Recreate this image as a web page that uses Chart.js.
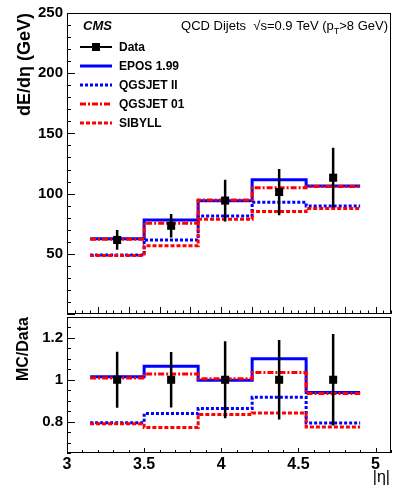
<!DOCTYPE html>
<html>
<head>
<meta charset="utf-8">
<script src="https://cdn.jsdelivr.net/npm/chart.js@4/dist/chart.umd.min.js"></script>
<style>
body{margin:0;background:#fff;}
#wrap{position:relative;width:394px;height:490px;}
canvas{position:absolute;left:0;}
</style>
</head>
<body>
<div id="wrap">
<canvas id="top" width="394" height="316" style="top:0"></canvas>
<canvas id="ratio" width="394" height="174" style="top:316px"></canvas>
</div>
<script>
// |eta| bins and values
var binEdges   = [3.15, 3.5, 3.85, 4.2, 4.55, 4.9];
var etaCenters = [3.325, 3.675, 4.025, 4.375, 4.725];
var dataVals   = [61.5, 73.3, 94.2, 101.3, 113.2];
var dataErr    = [8.2, 9.7, 17.3, 19.2, 24.8];
var epos       = [62.4, 78.0, 94.0, 111.5, 106.3];
var qgsjet2    = [48.9, 61.5, 81.3, 92.8, 89.8];
var qgsjet01   = [62.0, 75.3, 94.7, 104.8, 105.8];
var sibyll     = [48.6, 56.6, 78.6, 85.2, 87.6];
var xTicks      = [3, 3.5, 4, 4.5, 5];
var yTicksTop   = [50, 100, 150, 200, 250];
var yTicksRatio = [0.8, 1, 1.2];

var FONT = "'Liberation Sans', Arial, sans-serif";

var models = [
	{label: 'EPOS 1.99', vals: epos,     color: '#0000ff', dash: []},
	{label: 'QGSJET II', vals: qgsjet2,  color: '#0000ff', dash: [3, 2]},
	{label: 'QGSJET 01', vals: qgsjet01, color: '#ff0000', dash: [6, 2, 2, 2]},
	{label: 'SIBYLL',    vals: sibyll,   color: '#ff0000', dash: [4, 2]}
];

// one point per bin low edge, plus the closing right edge
function histPoints(vals, div){
	var pts = [];
	for (var i = 0; i < vals.length; i++){
		pts.push({x: binEdges[i], y: div ? vals[i] / div[i] : vals[i]});
	}
	pts.push({x: binEdges[binEdges.length - 1], y: pts[pts.length - 1].y});
	return pts;
}

function buildDatasets(ratio){
	var sets = [];
	var pts = [];
	for (var i = 0; i < etaCenters.length; i++){
		pts.push({x: etaCenters[i], y: ratio ? 1 : dataVals[i]});
	}
	sets.push({label: 'Data', data: pts, showLine: false, pointStyle: 'rect',
		pointRadius: 5.7, backgroundColor: '#000', borderColor: '#000', borderWidth: 0});
	// EPOS last in the list so it is drawn underneath
	for (var m = models.length - 1; m >= 0; m--){
		sets.push({label: models[m].label, data: histPoints(models[m].vals, ratio ? dataVals : null),
			stepped: 'before', borderColor: models[m].color, borderDash: models[m].dash,
			borderWidth: 3, pointRadius: 0, fill: false, tension: 0});
	}
	return sets;
}

function ticksPlugin(o){
	return {
		id: 'frameTicks',
		beforeDatasetDraw: function(chart, args){
			if (args.index !== 0) return;
			var ctx = chart.ctx, xs = chart.scales.x, ys = chart.scales.y;
			ctx.save();
			ctx.strokeStyle = '#000';
			ctx.lineWidth = 2.5;
			ctx.beginPath();
			for (var i = 0; i < etaCenters.length; i++){
				var c = o.ratio ? 1 : dataVals[i];
				var e = o.ratio ? dataErr[i] / dataVals[i] : dataErr[i];
				var px = xs.getPixelForValue(etaCenters[i]);
				ctx.moveTo(px, ys.getPixelForValue(c + e));
				ctx.lineTo(px, ys.getPixelForValue(c - e));
			}
			ctx.stroke();
			ctx.restore();
		},
		afterDraw: function(chart){
			var ctx = chart.ctx, a = chart.chartArea, xs = chart.scales.x, ys = chart.scales.y;
			ctx.save();
			ctx.strokeStyle = '#000';
			ctx.lineWidth = 1;
			ctx.strokeRect(Math.round(a.left) + 0.5, Math.round(a.top) + 0.5,
				Math.round(a.right - a.left) - 1, Math.round(a.bottom - a.top) - 1);
			ctx.beginPath();
			var n = Math.round((xs.max - xs.min) / o.xMinor), i, v, p, len;
			for (i = 0; i <= n; i++){
				v = xs.min + i * o.xMinor;
				if (v > xs.max + 1e-9) break;
				p = Math.round(xs.getPixelForValue(v)) + 0.5;
				len = Math.abs(v / o.xMajor - Math.round(v / o.xMajor)) < 1e-6 ? o.xMajLen : o.xMinLen;
				ctx.moveTo(p, a.bottom);
				ctx.lineTo(p, a.bottom - len);
			}
			n = Math.round((ys.max - ys.min) / o.yMinor);
			for (i = 0; i <= n; i++){
				v = ys.min + i * o.yMinor;
				p = Math.round(ys.getPixelForValue(v)) + 0.5;
				len = Math.abs(v / o.yMajor - Math.round(v / o.yMajor)) < 1e-6 ? o.yMajLen : o.yMinLen;
				ctx.moveTo(a.left, p);
				ctx.lineTo(a.left + len, p);
			}
			ctx.stroke();
			ctx.restore();
			if (o.extra) o.extra(chart);
		}
	};
}

function drawHeader(chart){
	var ctx = chart.ctx;
	ctx.save();
	ctx.fillStyle = '#000';
	ctx.textBaseline = 'alphabetic';
	ctx.font = 'italic bold 13px ' + FONT;
	ctx.fillText('CMS', 83, 30);

	var p1 = 'QCD Dijets  \u221As=0.9 TeV (p', p2 = 'T', p3 = '>8 GeV)';
	ctx.font = '13px ' + FONT;
	var w1 = ctx.measureText(p1).width, w3 = ctx.measureText(p3).width;
	ctx.font = '9px ' + FONT;
	var w2 = ctx.measureText(p2).width;
	var x = 388 - (w1 + w2 + w3);
	ctx.font = '13px ' + FONT;
	ctx.fillText(p1, x, 30);
	ctx.font = '9px ' + FONT;
	ctx.fillText(p2, x + w1, 34);
	ctx.font = '13px ' + FONT;
	ctx.fillText(p3, x + w1 + w2, 30);

	// legend
	var rows = [47, 66, 85, 104, 123];
	ctx.font = 'bold 12px ' + FONT;
	ctx.textBaseline = 'middle';
	ctx.strokeStyle = '#000';
	ctx.lineWidth = 2;
	ctx.beginPath();
	ctx.moveTo(80, rows[0]); ctx.lineTo(112, rows[0]);
	ctx.stroke();
	ctx.fillRect(92, rows[0] - 4, 8, 8);
	ctx.fillText('Data', 119, rows[0] + 1);
	for (var m = 0; m < models.length; m++){
		var y = rows[m + 1];
		ctx.strokeStyle = models[m].color;
		ctx.lineWidth = 3;
		ctx.setLineDash(models[m].dash);
		ctx.beginPath();
		ctx.moveTo(80, y); ctx.lineTo(112, y);
		ctx.stroke();
		ctx.setLineDash([]);
		ctx.fillStyle = '#000';
		ctx.fillText(models[m].label, 119, y + 1);
	}
	ctx.restore();
}

function drawEtaLabel(chart){
	var ctx = chart.ctx;
	ctx.save();
	ctx.fillStyle = '#000';
	ctx.font = '16px ' + FONT;
	ctx.textAlign = 'right';
	ctx.textBaseline = 'alphabetic';
	ctx.fillText('|\u03B7|', 390, 166);
	ctx.restore();
}

function plainLabel(v){ return String(v); }

function yAxis(min, max, list, title, titleSize){
	return {
		type: 'linear', min: min, max: max,
		afterBuildTicks: function(s){ s.ticks = list.map(function(v){ return {value: v}; }); },
		afterFit: function(s){ s.width = 67; s.paddingTop = 0; s.paddingBottom = 0; },
		grid: {display: false, drawTicks: false},
		border: {display: false},
		ticks: {color: '#000', padding: 4, callback: plainLabel,
			font: {family: FONT, size: 15, weight: 'bold'}},
		title: {display: true, text: title, align: 'end', color: '#000',
			padding: {top: 14, bottom: 0}, font: {family: FONT, size: titleSize, weight: 'bold'}}
	};
}

var baseOpts = {
	responsive: false,
	animation: false,
	devicePixelRatio: 1,
	plugins: {legend: {display: false}, tooltip: {enabled: false}}
};

new Chart(document.getElementById('top'), {
	type: 'line',
	data: {datasets: buildDatasets(false)},
	options: Object.assign({}, baseOpts, {
		layout: {autoPadding: false, padding: {top: 13, right: 3, bottom: 2, left: 0}},
		scales: {
			x: {type: 'linear', min: 3, max: 5.1, display: false},
			y: yAxis(0, 250, yTicksTop, 'dE/d\u03B7 (GeV)', 18)
		}
	}),
	plugins: [ticksPlugin({ratio: false, xMinor: 0.05, xMajor: 0.2, xMajLen: 7, xMinLen: 3.5,
		yMinor: 10, yMajor: 50, yMajLen: 8, yMinLen: 4, extra: drawHeader})]
});

new Chart(document.getElementById('ratio'), {
	type: 'line',
	data: {datasets: buildDatasets(true)},
	options: Object.assign({}, baseOpts, {
		layout: {autoPadding: false, padding: {top: 1, right: 3, bottom: 0, left: 0}},
		scales: {
			x: {
				type: 'linear', min: 3, max: 5.1,
				afterBuildTicks: function(s){ s.ticks = xTicks.map(function(v){ return {value: v}; }); },
				afterFit: function(s){ s.height = 37; s.paddingLeft = 0; s.paddingRight = 0; },
				grid: {display: false, drawTicks: false},
				border: {display: false},
				ticks: {color: '#000', padding: 2, maxRotation: 0, autoSkip: false, callback: plainLabel,
					font: {family: FONT, size: 16, weight: 'bold'}}
			},
			y: yAxis(0.65, 1.3, yTicksRatio, 'MC/Data', 16)
		}
	}),
	plugins: [ticksPlugin({ratio: true, xMinor: 0.1, xMajor: 0.5, xMajLen: 5, xMinLen: 3,
		yMinor: 0.05, yMajor: 0.2, yMajLen: 8, yMinLen: 4, extra: drawEtaLabel})]
});
</script>
</body>
</html>
